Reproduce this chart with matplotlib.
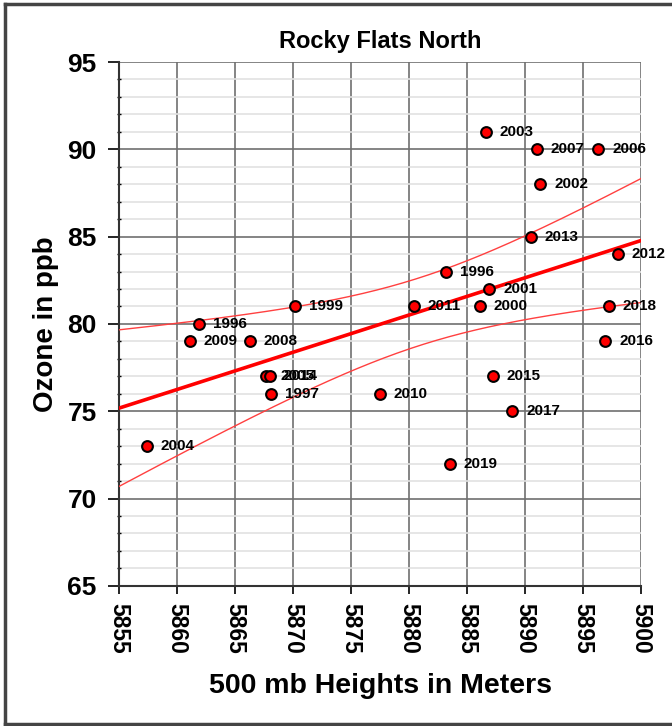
import numpy as np
import matplotlib.pyplot as plt
from matplotlib.lines import Line2D

plt.rcParams['font.family'] = ['Liberation Sans', 'DejaVu Sans']

# 500 mb heights (m), ozone (ppb) and year labels
heights = [5857.4, 5861.9, 5861.1, 5866.3, 5870.2, 5867.7, 5868.0, 5868.1,
           5877.5, 5880.4, 5886.1, 5886.9, 5883.2, 5886.6, 5891.0, 5896.3,
           5891.3, 5890.5, 5898.0, 5897.2, 5896.9, 5887.2, 5888.9, 5883.5]
ozone = [73, 80, 79, 79, 81, 77, 77, 76,
         76, 81, 81, 82, 83, 91, 90, 90,
         88, 85, 84, 81, 79, 77, 75, 72]
years = ['2004', '1996', '2009', '2008', '1999', '2005', '2014', '1997',
         '2010', '2011', '2000', '2001', '1996', '2003', '2007', '2006',
         '2002', '2013', '2012', '2018', '2016', '2015', '2017', '2019']

x = np.array(heights)
y = np.array(ozone, dtype=float)

fig = plt.figure(figsize=(6.72, 7.26), dpi=100)
ax = fig.add_axes([0.177, 0.193, 0.777, 0.7216])

ax.set_xlim(5855, 5900)
ax.set_ylim(65, 95)
ax.set_xticks(np.arange(5855, 5901, 5))
ax.set_yticks(np.arange(65, 96, 5))
ax.set_yticks(np.arange(65, 96, 1), minor=True)

ax.grid(True, which='minor', axis='y', color='#e2e2e2', lw=1.2, zorder=0)
ax.grid(True, which='major', axis='y', color='#707070', lw=1.2, zorder=0)
ax.grid(True, which='major', axis='x', color='#707070', lw=1.2, zorder=0)

for s in ['top', 'right']:
    ax.spines[s].set_visible(False)
ax.spines['left'].set_color('#333333')
ax.spines['bottom'].set_color('#333333')
ax.spines['left'].set_linewidth(1.5)
ax.spines['bottom'].set_linewidth(1.5)

ax.tick_params(axis='y', which='major', length=8, width=1.2, direction='out',
               labelsize=19, pad=8)
ax.tick_params(axis='y', which='minor', length=3, width=1.0, direction='inout')
ax.tick_params(axis='x', which='major', length=6, width=1.2, labelsize=16.5,
               labelrotation=-90, pad=6)
for lab in ax.get_xticklabels() + ax.get_yticklabels():
    lab.set_fontweight('bold')

# least squares fit and 95% confidence band for the mean
n = len(x)
b, a = np.polyfit(x, y, 1)
xs = np.linspace(5855, 5900, 200)
fit = a + b * xs
resid = y - (a + b * x)
se = np.sqrt(np.sum(resid ** 2) / (n - 2))
sxx = np.sum((x - x.mean()) ** 2)
t = 2.074
half = t * se * np.sqrt(1 / n + (xs - x.mean()) ** 2 / sxx)

ax.plot(xs, fit, color='#ff0000', lw=2.6, zorder=3)
ax.plot(xs, fit + half, color='#ff4040', lw=1.0, zorder=3)
ax.plot(xs, fit - half, color='#ff4040', lw=1.0, zorder=3)

ax.scatter(x, y, s=60, color='#ff0000', edgecolors='black', linewidths=1.5,
           zorder=4)
for xi, yi, lab in zip(x, y, years):
    ax.text(xi + 1.2, yi, lab, fontsize=11, fontweight='bold',
            va='center', ha='left', zorder=5)

ax.set_title('Rocky Flats North', fontsize=17, fontweight='bold', pad=10)
ax.set_xlabel('500 mb Heights in Meters', fontsize=20.5, fontweight='bold',
              labelpad=14)
ax.set_ylabel('Ozone in ppb', fontsize=20, fontweight='bold', labelpad=6)

# outer frame
for xy in [([0.008, 0.008], [0.003, 0.994]), ([0.008, 1.0], [0.994, 0.994]),
           ([0.008, 1.0], [0.003, 0.003])]:
    fig.add_artist(Line2D(xy[0], xy[1], color='#444444', lw=2.5,
                          transform=fig.transFigure))

fig.savefig('out.png', dpi=100)
